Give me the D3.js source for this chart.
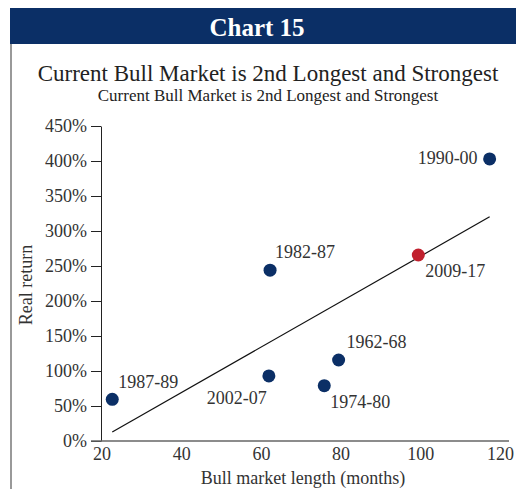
<!DOCTYPE html>
<html>
<head>
<meta charset="utf-8">
<script src="https://cdn.jsdelivr.net/npm/d3@7"></script>
<style>
  body { margin: 0; background: #fff; }
  svg text { font-family: "Liberation Serif", "Times New Roman", serif; }
</style>
</head>
<body>
<div id="grafico"></div>
<script>
// data
var periods = ["1987-89", "2002-07", "1982-87", "1974-80", "1962-68", "2009-17", "1990-00"]
var months  = [22.7, 62.0, 62.3, 75.9, 79.5, 99.5, 117.4]
var returns = [59.6, 92.9, 244, 79, 115.7, 265.7, 402.9]
var current = "2009-17"
var xTicks = [20, 40, 60, 80, 100, 120]
var yTicks = [0, 50, 100, 150, 200, 250, 300, 350, 400, 450]

var width = 516,
    height = 489

var svg = d3.select("#grafico")
  .append("svg")
    .attr("width", width)
    .attr("height", height)

// header band + frame
svg.append("rect")
  .attr("x", 10).attr("y", 8).attr("width", width - 10).attr("height", 36)
  .attr("fill", "#0b2f66")
svg.append("text")
  .attr("x", 257).attr("y", 36)
  .attr("text-anchor", "middle")
  .attr("fill", "#fff")
  .style("font-size", "25px").style("font-weight", "bold")
  .text("Chart 15")
svg.append("line")
  .attr("x1", 11).attr("x2", 11).attr("y1", 44).attr("y2", height)
  .attr("stroke", "#777").attr("stroke-width", 1.5)

svg.append("text")
  .attr("x", 268).attr("y", 81)
  .attr("text-anchor", "middle")
  .attr("fill", "#222")
  .style("font-size", "23px")
  .text("Current Bull Market is 2nd Longest and Strongest")
svg.append("text")
  .attr("x", 268).attr("y", 101)
  .attr("text-anchor", "middle")
  .attr("fill", "#222")
  .style("font-size", "17px")
  .text("Current Bull Market is 2nd Longest and Strongest")

// scales
var x = d3.scaleLinear().domain([20, 120]).range([101.5, 500])
var y = d3.scaleLinear().domain([0, 450]).range([441, 126])

// y axis
var yAxis = svg.append("g")
  .attr("transform", "translate(101,0)")
  .call(d3.axisLeft(y).tickValues(yTicks).tickSize(10).tickSizeOuter(0).tickPadding(4)
    .tickFormat(function(d){ return d + "%" }))
yAxis.attr("font-family", null)
yAxis.select(".domain").attr("stroke", "#222")
yAxis.selectAll(".tick line").attr("stroke", "#222")
yAxis.selectAll("text").style("font-size", "18px").attr("fill", "#333")

// x axis (no tick marks, grey baseline)
var xAxis = svg.append("g")
  .attr("transform", "translate(0,441)")
  .call(d3.axisBottom(x).tickValues(xTicks).tickSize(0).tickPadding(6))
xAxis.attr("font-family", null)
xAxis.select(".domain").remove()
xAxis.selectAll("text").style("font-size", "18px").attr("fill", "#333")
svg.append("line")
  .attr("x1", 91).attr("x2", 509).attr("y1", 441).attr("y2", 441)
  .attr("stroke", "#666").attr("stroke-width", 1.6)

// axis titles
svg.append("text")
  .attr("transform", "translate(32,285) rotate(-90)")
  .attr("text-anchor", "middle")
  .attr("fill", "#333")
  .style("font-size", "18px")
  .text("Real return")
svg.append("text")
  .attr("x", 303).attr("y", 484)
  .attr("text-anchor", "middle")
  .attr("fill", "#333")
  .style("font-size", "18px")
  .text("Bull market length (months)")

// least squares trend line from the points
var mx = d3.mean(months), my = d3.mean(returns)
var slope = d3.sum(months, function(v, i){ return (v - mx) * (returns[i] - my) }) /
            d3.sum(months, function(v){ return (v - mx) * (v - mx) })
var icpt = my - slope * mx
var ext = d3.extent(months)
svg.append("path")
  .datum(ext)
  .attr("d", d3.line()
    .x(function(d){ return x(d) })
    .y(function(d){ return y(icpt + slope * d) }))
  .attr("fill", "none")
  .attr("stroke", "#111")
  .attr("stroke-width", 1.2)

// points
var pts = periods.map(function(p, i){ return {label: p, m: months[i], r: returns[i]} })
svg.selectAll("circle.pt")
  .data(pts)
  .enter()
  .append("circle")
  .attr("class", "pt")
  .attr("cx", function(d){ return x(d.m) })
  .attr("cy", function(d){ return y(d.r) })
  .attr("r", 6.5)
  .attr("fill", function(d){ return d.label == current ? "#c1202e" : "#0b2f66" })

// label placement relative to each point
var place = {
  "1987-89": [6, -11, "start"],
  "2002-07": [-2, 28, "end"],
  "1982-87": [5, -12, "start"],
  "1974-80": [6, 22, "start"],
  "1962-68": [8, -12, "start"],
  "2009-17": [7, 22, "start"],
  "1990-00": [-12, 5, "end"]
}
svg.selectAll("text.lbl")
  .data(pts)
  .enter()
  .append("text")
  .attr("class", "lbl")
  .attr("x", function(d){ return x(d.m) + place[d.label][0] })
  .attr("y", function(d){ return y(d.r) + place[d.label][1] })
  .attr("text-anchor", function(d){ return place[d.label][2] })
  .attr("fill", "#333")
  .style("font-size", "18px")
  .text(function(d){ return d.label })
</script>
</body>
</html>
